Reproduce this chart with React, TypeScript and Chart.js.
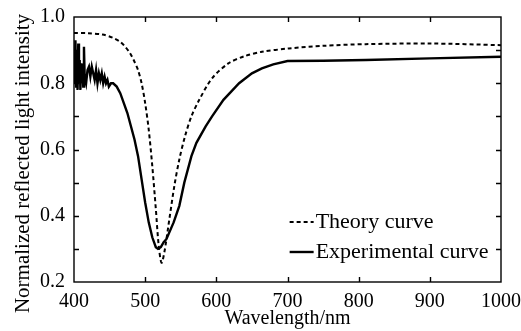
import React, { useEffect, useRef } from "react";
import { Chart, registerables } from "chart.js";

Chart.register(...registerables);

const theoryWavelengths = [400, 420, 440, 455, 465, 472, 479, 485, 490, 495, 500, 505, 510, 515, 519, 523, 527, 534, 541, 548, 556, 565, 576, 594, 617, 640, 664, 702, 750, 810, 900, 1000];
const theoryValues = [0.952, 0.951, 0.947, 0.937, 0.925, 0.91, 0.89, 0.865, 0.84, 0.8, 0.74, 0.66, 0.55, 0.42, 0.31, 0.258, 0.29, 0.39, 0.49, 0.57, 0.64, 0.7, 0.75, 0.815, 0.86, 0.882, 0.895, 0.905, 0.913, 0.918, 0.92, 0.915];

const expWavelengths = [400, 401, 402, 403, 404, 405, 406, 407, 408, 409, 410, 411, 412, 413, 414, 415, 417, 419, 421, 423, 425, 427, 429, 431, 433, 435, 437, 439, 441, 443, 445, 447, 449, 452, 455, 460, 465, 470, 475, 480, 485, 490, 495, 500, 505, 510, 515, 518, 522, 526, 530, 540, 548, 555, 565, 572, 585, 594, 610, 632, 650, 664, 680, 700, 750, 810, 900, 1000];
const expValues = [0.88, 0.8, 0.93, 0.79, 0.9, 0.78, 0.92, 0.8, 0.87, 0.78, 0.86, 0.8, 0.84, 0.79, 0.91, 0.82, 0.8, 0.84, 0.85, 0.82, 0.85, 0.83, 0.81, 0.84, 0.8, 0.83, 0.81, 0.83, 0.8, 0.82, 0.8, 0.81, 0.79, 0.8, 0.8, 0.79, 0.77, 0.74, 0.71, 0.67, 0.63, 0.58, 0.51, 0.44, 0.38, 0.335, 0.305, 0.3, 0.305, 0.32, 0.33, 0.38, 0.43, 0.5, 0.58, 0.62, 0.67, 0.7, 0.75, 0.8, 0.83, 0.845, 0.857, 0.867, 0.868, 0.87, 0.875, 0.88];

const seriesLabels = ["Theory curve", "Experimental curve"];
const xTitle = "Wavelength/nm";
const yTitle = "Normalized reflected light intensity";

const FONT = "'Liberation Serif', 'Times New Roman', serif";

const framePlugin = {
  id: "frame",
  afterDraw(chart: any) {
    const { ctx, chartArea } = chart;
    const { left, right, top, bottom } = chartArea;
    const xs = chart.scales.x;
    const ys = chart.scales.y;
    ctx.save();
    ctx.strokeStyle = "#000";
    ctx.lineWidth = 1.4;
    ctx.strokeRect(left, top, right - left, bottom - top);
    const tl = 5;
    ctx.beginPath();
    for (let v = 500; v < 1000; v += 100) {
      const px = Math.round(xs.getPixelForValue(v)) + 0.5;
      ctx.moveTo(px, bottom);
      ctx.lineTo(px, bottom - tl);
      ctx.moveTo(px, top);
      ctx.lineTo(px, top + tl);
    }
    for (let i = 3; i < 10; i++) {
      const py = Math.round(ys.getPixelForValue(i / 10)) + 0.5;
      ctx.moveTo(left, py);
      ctx.lineTo(left + tl, py);
      ctx.moveTo(right, py);
      ctx.lineTo(right - tl, py);
    }
    ctx.stroke();

    // y-axis title
    ctx.save();
    ctx.translate(23, (top + bottom) / 2 + 14);
    ctx.rotate(-Math.PI / 2);
    ctx.font = `21px ${FONT}`;
    ctx.fillStyle = "#000";
    ctx.textAlign = "center";
    ctx.textBaseline = "middle";
    ctx.fillText(yTitle, 0, 0);
    ctx.restore();

    // legend
    const datasets = chart.data.datasets;
    const lx0 = left + (right - left) * 0.505;
    const lx1 = lx0 + 24;
    const rows = [bottom - 60, bottom - 30];
    ctx.font = `22px ${FONT}`;
    ctx.fillStyle = "#000";
    ctx.textBaseline = "middle";
    datasets.forEach((ds: any, i: number) => {
      ctx.beginPath();
      ctx.lineWidth = ds.borderWidth;
      ctx.setLineDash(ds.borderDash || []);
      ctx.moveTo(lx0, rows[i]);
      ctx.lineTo(lx1, rows[i]);
      ctx.stroke();
      ctx.setLineDash([]);
      ctx.fillText(ds.label, lx1 + 2, rows[i]);
    });
    ctx.restore();
  },
};

export default function App() {
  const ref = useRef<HTMLCanvasElement>(null);
  useEffect(() => {
    document.body.style.margin = "0";
    const chart = new Chart(ref.current!, {
      type: "line",
      data: {
        datasets: [
          {
            label: seriesLabels[0],
            data: theoryWavelengths.map((x, i) => ({ x, y: theoryValues[i] })),
            borderColor: "#000",
            borderWidth: 2,
            borderDash: [4, 3],
            pointRadius: 0,
            tension: 0.3,
          },
          {
            label: seriesLabels[1],
            data: expWavelengths.map((x, i) => ({ x, y: expValues[i] })),
            borderColor: "#000",
            borderWidth: 2.4,
            pointRadius: 0,
            tension: 0,
          },
        ],
      },
      options: {
        animation: false,
        responsive: false,
        maintainAspectRatio: false,
        layout: { padding: { top: 17, right: 18, left: 0, bottom: 0 } },
        plugins: { legend: { display: false }, tooltip: { enabled: false } },
        scales: {
          x: {
            type: "linear",
            min: 400,
            max: 1000,
            grid: { display: false },
            border: { display: false },
            ticks: {
              stepSize: 100,
              color: "#000",
              font: { family: FONT, size: 20 },
              padding: 0,
              maxRotation: 0,
              callback: (v: any) => String(v),
            },
            title: {
              display: true,
              text: xTitle,
              color: "#000",
              font: { family: FONT, size: 20 },
              padding: { top: 3, bottom: 0 },
            },
            afterFit: (s: any) => {
              s.height = 49;
            },
          },
          y: {
            type: "linear",
            min: 0.2,
            max: 1.0,
            grid: { display: false },
            border: { display: false },
            ticks: {
              stepSize: 0.2,
              color: "#000",
              font: { family: FONT, size: 20 },
              padding: 1,
              callback: (v: any) => Number(v).toFixed(1),
            },
            title: { display: false },
            afterFit: (s: any) => {
              s.width = 74;
            },
          },
        },
      },
      plugins: [framePlugin],
    });
    return () => chart.destroy();
  }, []);
  return (
    <div style={{ position: "absolute", left: 0, top: 0, width: 521, height: 331, background: "#fff" }}>
      <canvas ref={ref} width={521} height={331} style={{ width: 521, height: 331 }} />
    </div>
  );
}
